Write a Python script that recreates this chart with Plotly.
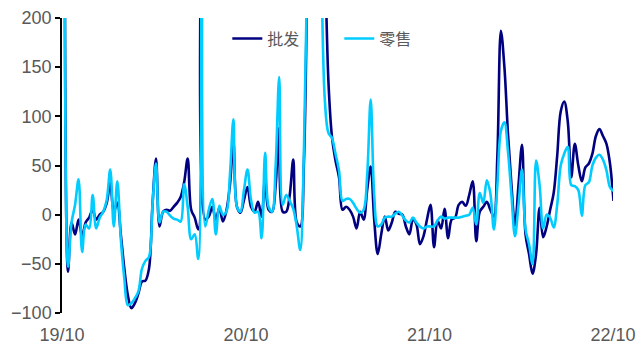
import pandas as pd
import plotly.graph_objects as go

# Weekly YoY growth (%), passenger-car sales: wholesale vs retail
weeks = pd.date_range("2019-10-06", periods=157, freq="7D")

wholesale = [
    500, -58, -8, -20, -5, -22, -8, -3, 5, -5,
    0, 3, 12, 32, 3, 12, -20, -55, -82, -95,
    -90, -80, -68, -67, -55, 10, 57, -12, 3, 5,
    4, 8, 12, 18, 33, 57, 5, -3, -15, 400,
    -5, -2, 8, -5, 7, -7, 4, 30, 73, 8,
    2, 15, 28, 8, 3, 13, -2, 37, 5, 3,
    30, 88, 3, 3, 20, 56, -8, -12, 50, 250,
    500, 500, 450, 350, 260, 135, 79, 55, 38, 5,
    8, 5, -2, -14, 3, -5, 25, 49, -5, -40,
    -20, -2, -16, -8, 3, 1, 0, -12, -20, -5,
    -10, -30, -22, -5, 10, -33, -6, -14, 6, -24,
    -5, -3, 10, 13, 9, 20, 34, -27, 3, 8,
    13, 5, -2, 60, 187, 150, 83, 30, -11, 30,
    71, -20, -40, -60, -40, 7, -23, -12, 5, 22,
    60, 105, 115, 95, 38, 72, 50, 34, 48, 52,
    62, 80, 87, 80, 72, 52, 14,
]

retail = [
    600, -53, -8, 10, 36, -38, -10, -14, 20, -14,
    -3, 3, 15, 46, -12, 34, -25, -65, -92, -90,
    -85, -78, -55, -47, -43, 10, 52, -8, 3, 3,
    -1, -4, -5, -7, 31, 8, -25, -20, -45, 500,
    -12, 5, 16, -20, 9, 0, 3, 40, 97, 8,
    3, 25, 46, 15, 2, 3, -24, 63, 8, 3,
    50, 140, 10, 20, 14, 6, -12, -36, 60, 260,
    500, 500, 450, 250, 115, 83, 78, 62, 45, 14,
    16, 16, 12, 6, 2, 5, 40, 117, 20, -12,
    -10, -3, -2, -2, 1, 3, -1, -6, -8, -3,
    -8, -12, -14, -12, -12, -12, -6, -2, -4, -3,
    -3, -3, -3, -2, -1, 0, 7, -10, 22, 12,
    35, 22, -15, 30, 85, 94, 65, 20, -22, 10,
    46, -15, -30, -50, 55, 30, -14, 0, -3, -13,
    10, 50, 62, 69, 30, 29, 25, -1, 30, 33,
    50, 58, 61, 56, 45, 28, 24,
]

tick_dates = ["2019-10-01", "2020-10-01", "2021-10-01", "2022-10-01"]
tick_labels = ["19/10", "20/10", "21/10", "22/10"]

NAVY = "#000080"
CYAN = "#00CCFF"
GREY = "#595959"

fig = go.Figure()
fig.add_trace(go.Scatter(
    x=weeks, y=wholesale, name="批发", mode="lines",
    line=dict(color=NAVY, width=2.6, shape="spline", smoothing=1.0),
))
fig.add_trace(go.Scatter(
    x=weeks, y=retail, name="零售", mode="lines",
    line=dict(color=CYAN, width=2.6, shape="spline", smoothing=1.0),
))

x_range = ["2019-10-01", "2022-10-01"]
y_min, y_max = -100, 200

fig.update_layout(
    width=641, height=345,
    margin=dict(l=62, r=28, t=18, b=32, autoexpand=False),
    paper_bgcolor="white", plot_bgcolor="white",
    font=dict(family="Liberation Sans, Arial, sans-serif", size=18, color=GREY),
    showlegend=True,
    legend=dict(
        orientation="h", x=0.30, xanchor="left", y=0.93, yanchor="middle",
        bgcolor="rgba(0,0,0,0)",
        font=dict(family="Noto Sans CJK SC", size=16, color=GREY),
        entrywidth=67, entrywidthmode="pixels",
    ),
    xaxis=dict(
        range=x_range, tickvals=tick_dates, ticktext=tick_labels,
        showgrid=False, zeroline=False, showline=False, automargin=False,
        ticks="outside", ticklen=5, tickcolor="rgba(0,0,0,0)",
    ),
    # axis line drawn through y = 0, with small downward ticks
    xaxis2=dict(
        range=x_range, overlaying="x", anchor="free", automargin=False,
        position=(0 - y_min) / (y_max - y_min),
        tickvals=tick_dates, showticklabels=False,
        showgrid=False, zeroline=False,
        showline=True, linecolor="black", linewidth=1.5,
        ticks="outside", ticklen=5, tickcolor="black", tickwidth=1.5,
    ),
    yaxis=dict(
        range=[y_min, y_max], dtick=50, automargin=False,
        showgrid=False, zeroline=False,
        showline=True, linecolor="black", linewidth=1.5,
        ticks="outside", ticklen=5, tickcolor="black", tickwidth=1.5,
    ),
)

fig.write_html("out.html")
